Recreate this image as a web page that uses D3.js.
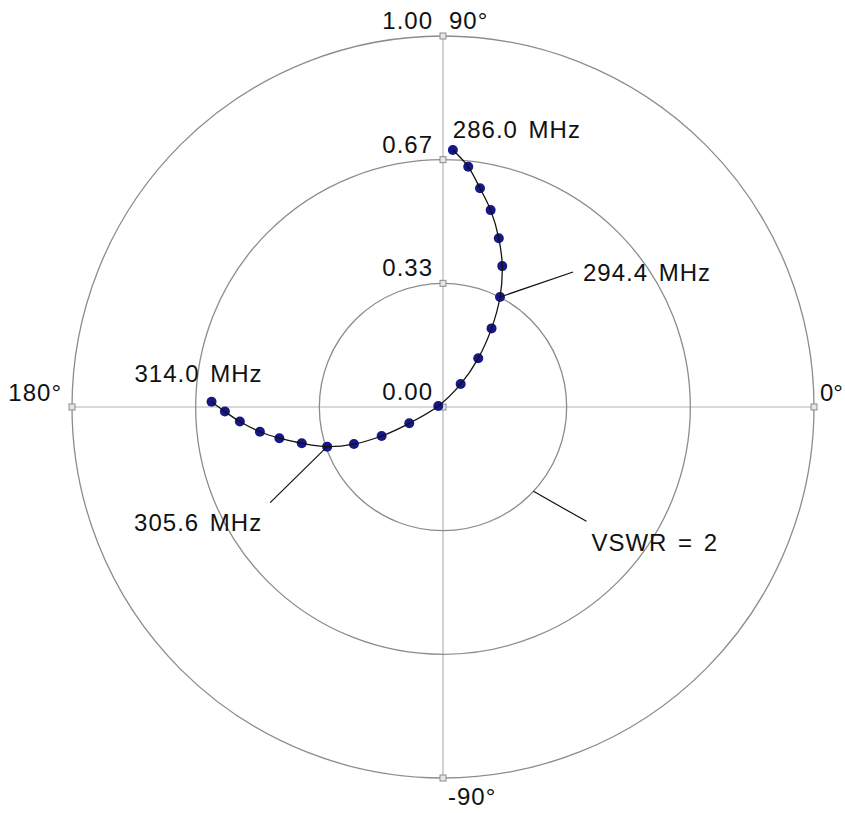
<!DOCTYPE html>
<html>
<head>
<meta charset="utf-8">
<script src="https://cdn.jsdelivr.net/npm/d3@7"></script>
<style>
  html, body { margin: 0; padding: 0; background: #fff; }
  svg { display: block; }
  text { font-family: "Liberation Sans", Arial, sans-serif; font-size: 24px; fill: #111; letter-spacing: 1px; word-spacing: 3px; }
</style>
</head>
<body>
<svg id="chart" width="845" height="813"></svg>
<script>
// Reflection coefficient sweep (magnitude, phase in degrees) vs. frequency
const FREQS = [286.0, 287.4, 288.8, 290.2, 291.6, 293.0, 294.4, 295.8, 297.2, 298.6, 300.0,
               301.4, 302.8, 304.2, 305.6, 307.0, 308.4, 309.8, 311.2, 312.6, 314.0];
const GAMMA_MAG = [0.693, 0.651, 0.598, 0.546, 0.479, 0.412, 0.334, 0.249, 0.162, 0.078, 0.013,
                   0.101, 0.183, 0.260, 0.330, 0.393, 0.449, 0.498, 0.549, 0.588, 0.624];
const GAMMA_DEG = [87.8, 84.0, 80.4, 76.4, 71.7, 67.2, 62.6, 58.3, 54.1, 52.4, 168.0,
                   -154.2, -154.7, -157.4, -161.1, -165.6, -169.2, -172.3, -175.9, -178.8, 178.7];

// Radial grid rings and their labels
const RING_VALUES = [0, 1 / 3, 2 / 3, 1];
const RING_LABELS = ["0.00", "0.33", "0.67", "1.00"];
// Angular axis ticks
const ANGLE_TICKS = [0, 90, 180, -90];
const ANGLE_LABELS = ["0°", "90°", "180°", "-90°"];
// Frequencies called out on the trace
const MARKED_FREQS = [286.0, 294.4, 305.6, 314.0];
const VSWR_LABEL = "VSWR = 2";
const VSWR_GAMMA = 1 / 3; // |Γ| for VSWR 2

const svg = d3.select("#chart");
const cx = 443, cy = 407, R = 371;

const r = d3.scaleLinear().domain([0, 1]).range([0, R]);
// d3 radial angles are measured clockwise from 12 o'clock
const toAngle = deg => (90 - deg) * Math.PI / 180;

const g = svg.append("g").attr("transform", `translate(${cx},${cy})`);

const data = FREQS.map((f, i) => ({ f, mag: GAMMA_MAG[i], deg: GAMMA_DEG[i] }));
const pos = d => d3.pointRadial(toAngle(d.deg), r(d.mag));

// axes through the centre
g.append("line").attr("x1", -r(1)).attr("x2", r(1)).attr("y1", 0).attr("y2", 0)
  .attr("stroke", "#b4b4b4").attr("stroke-width", 1.2);
g.append("line").attr("x1", 0).attr("x2", 0).attr("y1", -r(1)).attr("y2", r(1))
  .attr("stroke", "#b4b4b4").attr("stroke-width", 1.2);

// rings
g.selectAll("circle.ring").data(RING_VALUES.filter(v => v > 0)).join("circle")
  .attr("class", "ring").attr("r", d => r(d))
  .attr("fill", "none").attr("stroke", "#8c8c8c").attr("stroke-width", 1.3);

// small square tick markers
const tickPts = RING_VALUES.map(v => [0, -r(v)])
  .concat(ANGLE_TICKS.filter(a => a !== 90).map(a => d3.pointRadial(toAngle(a), r(1))));
g.selectAll("rect.tick").data(tickPts).join("rect")
  .attr("class", "tick")
  .attr("x", d => d[0] - 3).attr("y", d => d[1] - 3)
  .attr("width", 6).attr("height", 6)
  .attr("fill", "#e6e6e6").attr("stroke", "#8c8c8c").attr("stroke-width", 1);

// ring labels
g.selectAll("text.ringlab").data(RING_VALUES).join("text")
  .attr("class", "ringlab")
  .attr("x", -10).attr("y", d => -r(d) - 7)
  .attr("text-anchor", "end")
  .text((d, i) => RING_LABELS[i]);

// angle labels
const angleLabelPos = {
  "0": { x: r(1) + 6, y: -6, anchor: "start", ls: 0 },
  "90": { x: 6, y: -r(1) - 7, anchor: "start", ls: 1 },
  "180": { x: -r(1) - 10, y: -6, anchor: "end", ls: 1 },
  "-90": { x: 5, y: r(1) + 27, anchor: "start", ls: 1 }
};
ANGLE_TICKS.forEach((a, i) => {
  const p = angleLabelPos[String(a)];
  g.append("text").attr("x", p.x).attr("y", p.y)
    .attr("text-anchor", p.anchor)
    .style("letter-spacing", p.ls + "px")
    .text(ANGLE_LABELS[i]);
});

// VSWR = 2 call-out on the inner ring
const vswrA = d3.pointRadial(toAngle(-43), r(VSWR_GAMMA));
g.append("line")
  .attr("x1", vswrA[0]).attr("y1", vswrA[1])
  .attr("x2", vswrA[0] + 53).attr("y2", vswrA[1] + 30)
  .attr("stroke", "#111").attr("stroke-width", 1.2);
g.append("text").attr("x", vswrA[0] + 58).attr("y", vswrA[1] + 60)
  .text(VSWR_LABEL);

// trace
const trace = d3.lineRadial()
  .angle(d => toAngle(d.deg))
  .radius(d => r(d.mag))
  .curve(d3.curveCatmullRom.alpha(0.5));

g.selectAll("circle.pt").data(data).join("circle")
  .attr("class", "pt")
  .attr("cx", d => pos(d)[0]).attr("cy", d => pos(d)[1])
  .attr("r", 5).attr("fill", "#17178a");

g.append("path").datum(data)
  .attr("d", trace)
  .attr("fill", "none").attr("stroke", "#111").attr("stroke-width", 1.3);

// frequency call-outs: leader offsets and text placement relative to the point
const callout = {
  "286.0": { lead: null, tx: 0, ty: -12, anchor: "start" },
  "294.4": { lead: [73, -25], tx: 83, ty: -16, anchor: "start" },
  "305.6": { lead: [-57, 56], tx: -65, ty: 84, anchor: "end" },
  "314.0": { lead: null, tx: 51, ty: -20, anchor: "end" }
};
MARKED_FREQS.forEach(f => {
  const d = data.find(e => Math.abs(e.f - f) < 1e-6);
  const p = pos(d);
  const c = callout[f.toFixed(1)];
  if (c.lead) {
    g.append("line")
      .attr("x1", p[0]).attr("y1", p[1])
      .attr("x2", p[0] + c.lead[0]).attr("y2", p[1] + c.lead[1])
      .attr("stroke", "#111").attr("stroke-width", 1.2);
  }
  g.append("text").attr("x", p[0] + c.tx).attr("y", p[1] + c.ty)
    .attr("text-anchor", c.anchor)
    .text(`${f.toFixed(1)} MHz`);
});
</script>
</body>
</html>
